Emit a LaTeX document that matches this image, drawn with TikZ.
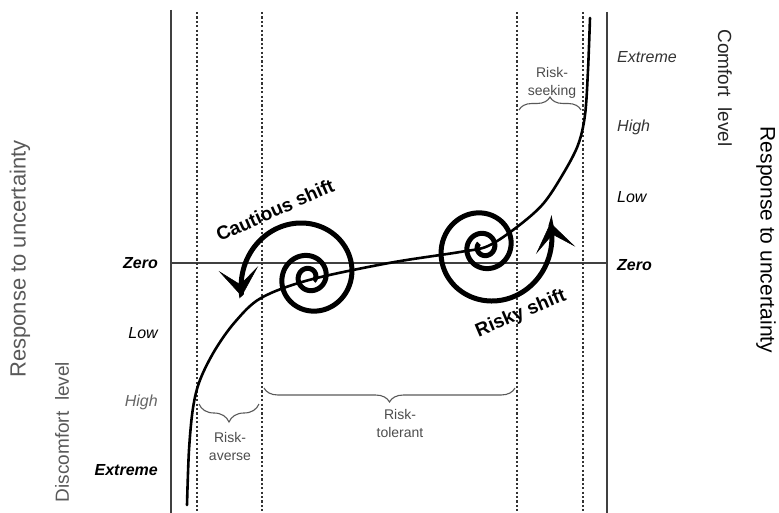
\documentclass[tikz,border=0pt]{standalone}
\usepackage{fontspec}
\setmainfont{Liberation Sans}
\usetikzlibrary{arrows.meta,decorations.pathreplacing}
\begin{document}
\begin{tikzpicture}[x=1pt,y=-1pt,
  frame/.style={line width=1.3pt, draw=black!75},
  guide/.style={line width=1.3pt, draw=black!80, dash pattern=on 2.2pt off 2.2pt},
  curveline/.style={line width=2.6pt, line cap=round},
  spiralline/.style={line width=5pt, -{Stealth[length=28pt,width=40pt,inset=16pt,line width=0.5pt]}},
  level/.style={font=\fontsize{16}{18}\selectfont\itshape, inner sep=0pt},
  axislabel/.style={inner sep=0pt},
  shiftlabel/.style={font=\fontsize{19}{22}\selectfont\bfseries, inner sep=0pt},
  zonelabel/.style={font=\fontsize{14}{18}\selectfont, text=black!70, align=center, inner sep=0pt},
  bracestyle/.style={line width=1.1pt, draw=black!65, decorate}
]
\useasboundingbox (0,0) rectangle (779,513);
% frame lines
\draw[frame] (171,10) -- (171,513);
\draw[frame] (607,12) -- (607,513);
\draw[frame] (171,263) -- (607,263);
% dashed guides
\foreach \gx in {197,262,517,583} \draw[guide] (\gx,12) -- (\gx,513);
% main curve
\draw[curveline] plot[smooth, tension=0.55] coordinates {(187,505) (189,450) (193,408) (200,380) (215,350) (235,322) (261,298) (309,280) (389,263) (460,252) (488,246) (517,227) (543,204) (563,174) (578,145) (585,115) (588,70) (590,18)};
% spirals (logarithmic, winding outward counterclockwise)
\draw[spiralline] plot[domain=-400:556, samples=300, variable=\t, smooth] ({309+70*exp(0.002545*(\t-556))*cos(\t)}, {277-70*exp(0.002545*(\t-556))*sin(\t)});
\draw[spiralline] plot[domain=-396:560, samples=300, variable=\t, smooth] ({484-70*exp(0.002545*(\t-556))*cos(\t)}, {247+70*exp(0.002545*(\t-556))*sin(\t)});
% shift labels
\node[shiftlabel, rotate=24] (cautious) at (275,210) {Cautious shift};
\node[shiftlabel, rotate=23] (risky) at (521,314) {Risky shift};
% left level labels
\node[level, font=\fontsize{16}{18}\selectfont\bfseries\itshape, anchor=east] (lzero) at (158,263) {Zero};
\node[level, anchor=east] (llow) at (158,333) {Low};
\node[level, anchor=east, text=black!60] (lhigh) at (158,402) {High};
\node[level, font=\fontsize{16}{18}\selectfont\bfseries\itshape, anchor=east] (lext) at (158,470) {Extreme};
% right level labels
\node[level, anchor=west, text=black!80] (rext) at (617,57) {Extreme};
\node[level, anchor=west, text=black!80] (rhigh) at (617,127) {High};
\node[level, anchor=west] (rlow) at (617,197) {Low};
\node[level, font=\fontsize{16}{18}\selectfont\bfseries\itshape, anchor=west] (rzero) at (617,265) {Zero};
% axis titles
\node[axislabel, rotate=90, font=\fontsize{22}{24}\selectfont, text=black!65] (lresp) at (20,259) {Response to uncertainty};
\node[axislabel, rotate=90, font=\fontsize{19}{22}\selectfont, text=black!65] (ldisc) at (62,432) {Discomfort\ \ level};
\node[axislabel, rotate=-90, font=\fontsize{19}{22}\selectfont, text=black!85] (rcomf) at (725,88) {Comfort\ \ level};
\node[axislabel, rotate=-90, font=\fontsize{21}{24}\selectfont] (rresp) at (766,240) {Response to uncertainty};
% braces
\coordinate (avL) at (199,404); \coordinate (avR) at (259,404);
\coordinate (toL) at (264,388); \coordinate (toR) at (515,388);
\coordinate (seL) at (519,110); \coordinate (seR) at (581,110);
\draw[bracestyle, decoration={brace, amplitude=18pt}] (avR) -- (avL);
\draw[bracestyle, decoration={brace, amplitude=14pt}] (toR) -- (toL);
\draw[bracestyle, decoration={brace, amplitude=13pt}] (seL) -- (seR);
\node[zonelabel] (averse) at (230,446) {Risk-\\averse};
\node[zonelabel] (tolerant) at (400,423) {Risk-\\tolerant};
\node[zonelabel] (seeking) at (552,83) {Risk-\\seeking};
\end{tikzpicture}
\end{document}
